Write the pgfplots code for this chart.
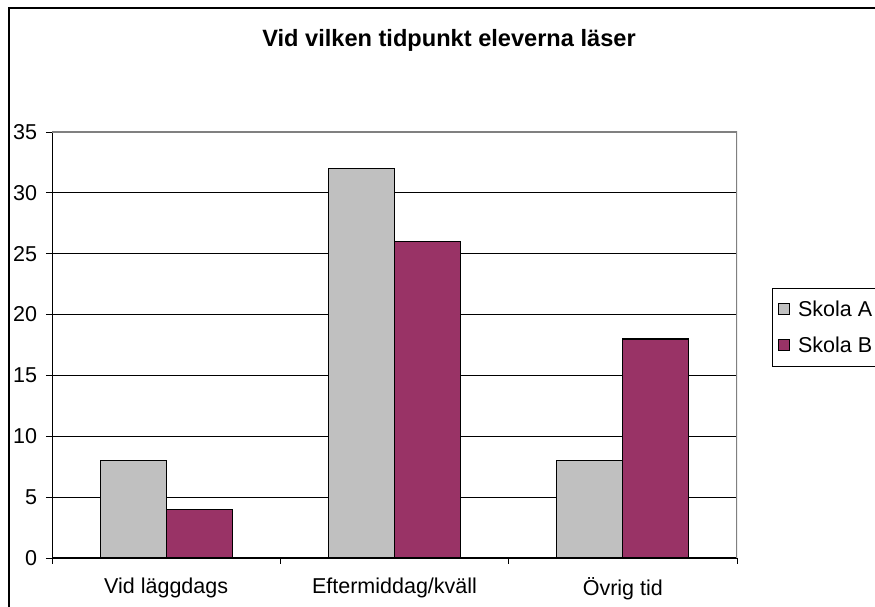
\documentclass[border=0pt]{standalone}
\usepackage{pgfplots}
\pgfplotsset{compat=1.18}
\usepackage{fontspec}
\setmainfont{Liberation Sans}
\definecolor{skolaA}{HTML}{C0C0C0}
\definecolor{skolaB}{HTML}{993366}
\begin{document}
\begin{tikzpicture}[x=1pt,y=1pt]
\useasboundingbox (0,0) rectangle (875,607);
\draw[line width=1.6pt] (9,-10) -- (9,599) -- (895,599);
\node[anchor=base] at (449,560.3) {\fontsize{23.6}{27}\selectfont\bfseries Vid vilken tidpunkt eleverna läser};
\begin{axis}[
  at={(52pt,49pt)}, anchor=south west,
  scale only axis, width=685pt, height=426pt,
  ymin=0, ymax=35, ytick={0,5,...,30},
  extra y ticks={35}, extra y tick style={grid=none},
  xmin=-0.5, xmax=2.5,
  xtick={0,1,2},
  xticklabels={Vid läggdags, Eftermiddag/kväll, Övrig tid},
  minor xtick={-0.5,0.5,1.5,2.5},
  axis x line*=bottom, axis y line*=left,
  axis line style={black, line width=1pt},
  tick align=outside,
  major tick length=6pt, minor tick length=6pt,
  x tick style={draw=none},
  minor x tick style={draw=black, line width=0.8pt},
  y tick style={black, line width=0.8pt},
  ymajorgrids, grid style={black, line width=0.8pt},
  /pgf/number format/assume math mode=true,
  tick label style={font=\fontsize{21.5}{25}\selectfont},
  yticklabel style={xshift=-5.5pt},
  xticklabel style={yshift=-10pt},
  ybar=0pt, bar width=66pt,
  legend style={at={(1.0507,0.6338)}, anchor=north west, draw=black, line width=0.8pt,
    font=\fontsize{21.5}{25}\selectfont, inner xsep=3pt, inner ysep=10.5pt,
    row sep=14.5pt, cells={anchor=west}},
  legend image code/.code={\path[draw=none, fill=none] (0pt,-1pt) rectangle (21pt,1pt); \draw[#1, line width=1pt] (3pt,-5.5pt) rectangle (14.5pt,5.5pt);},
]
\addplot[fill=skolaA, draw=black, line width=1.3pt] coordinates {(0,8) (1,32) (2,8)};
\addplot[fill=skolaB, draw=black, line width=1.3pt] coordinates {(0,4) (1,26) (2,18)};
\legend{Skola A, Skola B}
\draw[gray, line width=1.2pt] (rel axis cs:0,1) -- (rel axis cs:1,1) -- (rel axis cs:1,0);
\end{axis}
\end{tikzpicture}
\end{document}
